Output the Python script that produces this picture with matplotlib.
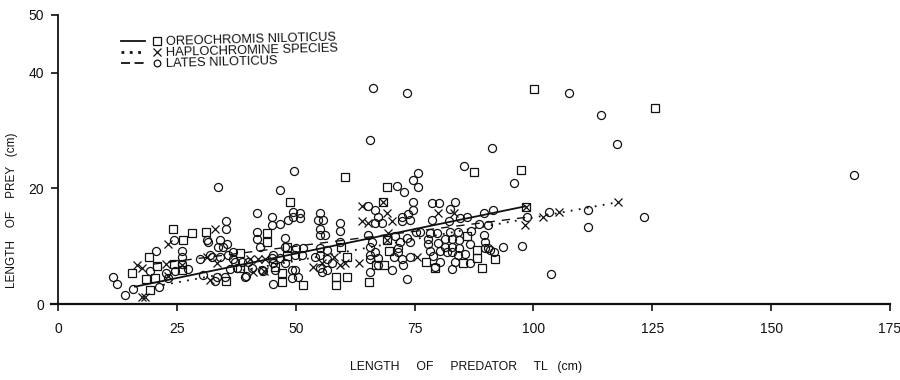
import matplotlib
matplotlib.use('Agg')
from matplotlib import pyplot as plt
from matplotlib.lines import Line2D

plt.rcParams['font.family'] = ['Liberation Sans', 'DejaVu Sans']

# prey length vs predator total length
oreo_x = [24.2, 28.2, 26.3, 31.2, 19.2, 20.8, 15.6, 18.5, 20.4, 19.4, 24.4, 26.1,
          35.4, 38.3, 38.3, 44.0, 44.0, 47.2, 47.2, 48.8, 48.2, 48.2, 45.7, 51.6,
          59.6, 60.8, 58.5, 58.5, 60.8, 65.5, 69.1, 68.4, 69.3, 69.7, 66.9, 68.6,
          77.5, 79.2, 85.1, 86.1, 88.2, 88.2, 89.1, 92.0, 98.5, 60.4, 87.4, 97.3,
          100.2, 125.5]
oreo_y = [13.0, 12.3, 11.1, 12.5, 8.2, 6.6, 5.4, 4.3, 4.5, 2.4, 7.0, 5.9,
          4.0, 8.9, 6.3, 12.3, 10.8, 5.4, 3.8, 17.7, 9.9, 8.3, 6.4, 3.3,
          9.9, 8.2, 4.7, 3.3, 4.7, 3.8, 20.2, 17.6, 11.1, 9.2, 6.8, 6.8,
          7.3, 6.3, 7.1, 11.7, 9.4, 8.0, 6.3, 7.7, 16.7, 21.9, 22.8, 23.1,
          37.2, 33.9]

hap_x = [33.1, 23.2, 16.6, 17.7, 22.7, 23.2, 26.1, 17.7, 18.3, 31.4, 33.5, 32.0,
         40.4, 42.1, 43.6, 41.1, 43.4, 53.7, 55.6, 58.1, 59.4, 60.4, 63.4, 64.0,
         64.0, 65.3, 69.3, 70.3, 69.5, 68.4, 69.3, 75.6, 80.0, 83.2, 98.3, 98.5,
         102.1, 105.3, 117.7]
hap_y = [12.9, 10.4, 6.8, 6.3, 7.0, 4.9, 6.8, 1.2, 1.2, 8.2, 7.1, 4.2,
         7.7, 7.7, 7.7, 5.6, 5.7, 6.4, 7.1, 8.2, 6.8, 7.1, 7.1, 16.9,
         14.3, 14.1, 15.8, 14.3, 12.3, 17.6, 11.1, 8.2, 15.8, 15.8, 13.6, 16.7,
         15.1, 16.0, 17.6]

lates_x = [66.3, 73.5, 107.4, 114.3, 117.5, 65.7, 91.2, 49.7, 85.3, 96.0, 33.7, 46.7,
           71.4, 72.8, 74.7, 75.8, 75.8, 167.4, 123.2, 111.4, 111.4, 103.2, 103.6, 98.7,
           97.7, 93.7, 89.7, 91.6, 86.1, 88.6, 90.5, 86.9, 89.7, 89.9, 90.5, 91.8,
           86.7, 85.7,
           11.6, 12.4, 14.1, 15.8, 20.6, 24.4, 19.4, 21.3, 22.7, 24.6, 26.1, 26.1,
           26.1, 27.4, 23.2, 29.9, 30.5, 31.4,
           41.9, 45.1, 35.4, 35.4, 34.1, 35.6, 33.7, 36.8, 34.1, 39.6, 43.2, 45.3,
           41.9, 41.9, 42.5, 45.1, 46.7, 48.4, 49.5, 49.5, 50.9, 50.9, 45.3, 45.3,
           47.8, 47.8, 47.8, 49.3, 49.3, 32.4, 33.1, 36.8, 38.7, 40.8, 50.1, 51.6,
           31.6, 34.7, 32.0, 35.8, 37.3, 40.0, 45.1, 46.7, 49.9, 51.4, 36.2, 37.7,
           35.2, 33.5, 39.4, 42.9, 45.7, 49.9, 50.5,
           55.2, 55.8, 54.7, 55.2, 55.2, 56.2, 59.4, 59.4, 59.4, 55.2, 56.6, 55.2,
           54.1, 56.6, 57.7, 55.2, 56.6, 55.6, 65.3, 66.7, 67.4, 68.2, 66.7, 65.3,
           66.1, 65.7, 65.7, 66.7, 67.4, 65.7, 65.7, 67.4, 74.7, 74.7, 73.7, 74.1,
           72.4, 72.4, 70.9, 72.0, 73.5, 71.6, 74.1, 75.2, 74.1, 72.4, 71.6, 70.7,
           70.3, 72.6, 73.5,
           78.7, 80.2, 83.4, 82.5, 78.7, 82.3, 84.6, 76.2, 78.3, 79.8, 82.5, 84.2,
           77.9, 77.9, 80.0, 81.5, 82.9, 81.5, 82.9, 84.4, 84.4, 78.3, 80.4, 81.9,
           82.9, 84.2, 86.7, 89.9, 90.9, 78.9, 79.4, 80.4, 82.9, 83.4]
lates_y = [37.4, 36.5, 36.5, 32.7, 27.7, 28.3, 27.0, 23.0, 23.8, 21.0, 20.3, 19.8,
           20.5, 19.3, 21.4, 22.6, 20.3, 22.4, 15.1, 16.3, 13.4, 16.0, 5.2, 15.1,
           10.1, 9.9, 15.8, 16.2, 15.1, 13.9, 13.6, 12.7, 12.0, 10.8, 9.7, 9.0,
           7.1, 8.7,
           4.7, 3.5, 1.6, 2.6, 9.2, 11.1, 5.7, 3.0, 5.4, 5.7, 9.2, 8.2,
           7.0, 6.1, 4.5, 7.8, 5.0, 11.1,
           15.7, 15.0, 14.3, 13.0, 11.1, 10.3, 9.9, 9.0, 8.2, 4.9, 5.7, 3.5,
           12.5, 11.3, 9.9, 13.7, 13.9, 14.6, 15.1, 16.0, 15.8, 14.8, 8.5, 7.1,
           7.1, 11.5, 9.9, 5.9, 4.5, 8.2, 4.0, 7.7, 7.3, 6.3, 9.7, 9.7,
           10.8, 9.9, 8.5, 8.5, 7.3, 7.3, 8.0, 8.0, 8.5, 8.5, 6.1, 6.3,
           4.7, 4.7, 4.7, 5.9, 5.9, 5.9, 4.7,
           15.8, 14.6, 14.6, 12.9, 12.0, 12.0, 14.1, 12.7, 10.8, 9.7, 9.4, 8.5,
           8.2, 7.7, 7.1, 6.3, 5.9, 5.6, 17.0, 16.3, 15.1, 14.1, 14.1, 12.0,
           10.8, 9.9, 8.5, 9.0, 8.0, 5.6, 7.7, 6.8, 17.6, 16.3, 15.5, 14.6,
           15.1, 14.3, 11.8, 10.8, 11.5, 9.7, 10.8, 12.5, 8.2, 7.7, 9.0, 8.2,
           5.9, 6.8, 4.3,
           17.4, 17.4, 17.7, 16.5, 14.6, 14.4, 14.8, 12.5, 12.3, 12.3, 12.5, 12.5,
           11.3, 10.3, 10.6, 11.3, 11.3, 9.9, 9.9, 11.1, 9.7, 9.2, 9.2, 9.0,
           9.0, 8.5, 10.4, 9.7, 9.4, 8.3, 6.4, 7.3, 6.1, 7.3]

# fitted regression lines (end points)
oreo_fit_x = [16.2, 98.3]
oreo_fit_y = [3.0, 16.9]
hap_fit_x = [22.1, 117.7]
hap_fit_y = [3.3, 17.6]
lates_fit_x = [20.0, 98.5]
lates_fit_y = [6.9, 15.0]

legend_labels = ['OREOCHROMIS NILOTICUS', 'HAPLOCHROMINE SPECIES', 'LATES NILOTICUS']

W, H = 900, 380
fig = plt.figure(figsize=(9, 3.8), dpi=100, facecolor='white')
ax = fig.add_axes([58 / W, 76 / H, (890 - 58) / W, (304 - 15) / H])

ink = '#111111'
mk = dict(linestyle='none', markerfacecolor='none', markeredgecolor=ink, markeredgewidth=0.9)
ax.plot(lates_x, lates_y, marker='o', markersize=5.8, **mk)
ax.plot(oreo_x, oreo_y, marker='s', markersize=6.4, **mk)
ax.plot(hap_x, hap_y, marker='x', markersize=5.8, **mk)

ax.plot(oreo_fit_x, oreo_fit_y, color=ink, lw=1.3, linestyle='-')
ax.plot(hap_fit_x, hap_fit_y, color=ink, lw=1.3, linestyle=(0, (1, 3.5)))
ax.plot(lates_fit_x, lates_fit_y, color=ink, lw=1.0, linestyle=(0, (6, 5)))

ax.set_xlim(0, 175)
ax.set_ylim(0, 50)
ax.set_xticks([0, 25, 50, 75, 100, 125, 150, 175])
ax.set_yticks([0, 20, 40, 50])
for s in ['top', 'right']:
    ax.spines[s].set_visible(False)
ax.spines['bottom'].set_linewidth(1.6)
ax.spines['left'].set_linewidth(1.3)
ax.spines['bottom'].set_color(ink)
ax.spines['left'].set_color(ink)
ax.spines['bottom'].set_bounds(-1.5, 175)
ax.tick_params(axis='x', direction='out', length=5, width=1.2, pad=8, labelsize=10, colors=ink)
ax.tick_params(axis='y', direction='out', length=5, width=1.2, pad=5, labelsize=10, colors=ink)

fig.text(466 / W, 1 - 367 / H, 'LENGTH     OF     PREDATOR     TL   (cm)', ha='center', va='center',
         fontsize=8.8, color=ink)
fig.text(12 / W, 1 - 210 / H, 'LENGTH    OF    PREY   (cm)', ha='center', va='center',
         rotation=90, fontsize=8.5, color=ink)

# hand-drawn style legend
styles = [('-', 's'), ((0, (1, 2)), 'x'), ((0, (5, 2.5)), 'o')]
rows = [41, 52, 63]
for (ls, m), lab, ry in zip(styles, legend_labels, rows):
    yy = 1 - ry / H
    fig.add_artist(Line2D([121 / W, 145 / W], [yy, yy], color=ink, lw=1.3 if m != 'x' else 2.0,
                          linestyle=ls))
    fig.add_artist(Line2D([157 / W], [yy], marker=m, markersize=5.5 if m != 'o' else 4.8,
                          markerfacecolor='none', markeredgecolor=ink, markeredgewidth=0.9))
    fig.text(166 / W, yy - 0.003, lab, ha='left', va='center', fontsize=9.3, color=ink, rotation=1.5,
             rotation_mode='anchor')

fig.savefig('out.png', dpi=100, facecolor='white')
